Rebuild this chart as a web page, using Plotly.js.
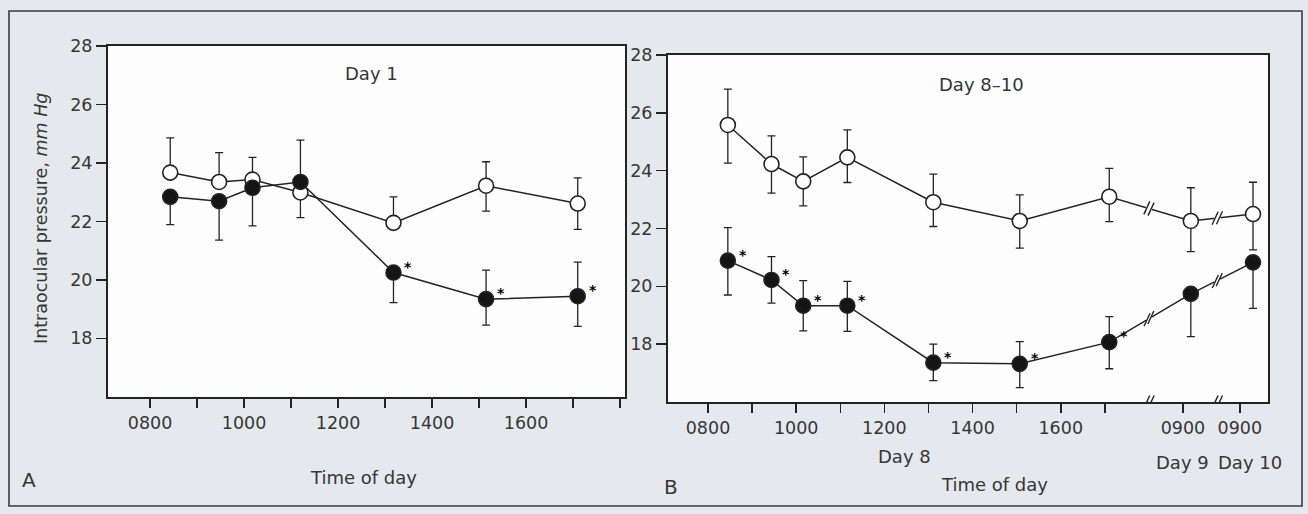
<!DOCTYPE html>
<html><head><meta charset="utf-8">
<script src="https://cdn.plot.ly/plotly-3.0.1.min.js"></script>
<style>html,body{margin:0;padding:0;background:#e5e9ee;}#chart{width:1308px;height:514px;}</style>
</head><body><div id="chart"></div>
<script>
// ---------- Panel A : Day 1 ----------
const timeA = [8.43, 9.47, 10.18, 11.2, 13.18, 15.15, 17.1];
const openA = [23.67, 23.35, 23.43, 22.99, 21.95, 23.22, 22.61];
const openAUp = [1.19, 1.0, 0.76, 0, 0.89, 0.82, 0.88];
const openADown = [0, 0, 0, 0.86, 0, 0.87, 0.88];
const filledA = [22.84, 22.69, 23.15, 23.35, 20.25, 19.34, 19.44];
const filledAUp = [0, 0, 0, 1.43, 0, 0.99, 1.17];
const filledADown = [0.95, 1.33, 1.30, 0, 1.03, 0.89, 1.03];
const sigA = [0, 0, 0, 0, 1, 1, 1];
const tickValsA = [8, 9, 10, 11, 12, 13, 14, 15, 16, 17, 18];
const tickTextA = ['0800', '', '1000', '', '1200', '', '1400', '', '1600', '', ''];

// ---------- Panel B : Day 8-10 (axis broken after 1700) ----------
const timeB = [8.45, 9.44, 10.16, 11.16, 13.11, 15.07, 17.1, 18.95, 20.36];
const openB = [25.58, 24.23, 23.63, 24.46, 22.91, 22.26, 23.10, 22.26, 22.50];
const openBUp = [1.24, 0.97, 0.85, 0.95, 0.97, 0.90, 0.98, 1.15, 1.10];
const openBDown = [1.32, 1.01, 0.85, 0.87, 0.84, 0.94, 0.86, 1.06, 1.24];
const filledB = [20.89, 20.22, 19.33, 19.33, 17.36, 17.32, 18.07, 19.74, 20.83];
const filledBUp = [1.14, 0.81, 0.87, 0.84, 0.64, 0.77, 0.88, 0, 0];
const filledBDown = [1.19, 0.80, 0.87, 0.89, 0.62, 0.82, 0.92, 1.48, 1.59];
const sigB = [1, 1, 1, 1, 1, 1, 1, 0, 0];
const tickValsB = [8, 9, 10, 11, 12, 13, 14, 15, 16, 17, 18.77, 20.06];
const tickTextB = ['0800', '', '1000', '', '1200', '', '1400', '', '1600', '', '0900', '0900'];
const dayTextB = ['Day 8', 'Day 9', 'Day 10'];
const dayPosB = [12.45, 18.77, 20.29];
const breaksB = [18.0, 19.55];

const yTicks = [18, 20, 22, 24, 26, 28];

// ---------- layout geometry ----------
const W = 1308, H = 514;
const FONT = 'DejaVu Sans, sans-serif';
const INK = '#232323';
const TXT = '#363636';
const px = v => v / W, py = v => 1 - v / H;
const domA = {x: [108, 625], y: [46, 396.8]}, rangeA = [7.106, 18.106];
const domB = {x: [668, 1268], y: [55, 402]}, rangeB = [7.093, 20.70];
const yRange = [16, 28];

function errs(up, down) {
  return {type: 'data', symmetric: false, array: up, arrayminus: down,
          width: 4, thickness: 1.3, color: INK};
}
function series(x, y, up, down, filled, xa, ya) {
  return {x: x, y: y, xaxis: xa, yaxis: ya, mode: 'lines+markers', type: 'scatter',
    line: {color: INK, width: 1.5},
    marker: {size: 15, color: filled ? '#151515' : '#ffffff', line: {color: INK, width: 1.6}},
    error_y: errs(up, down), hoverinfo: 'skip', cliponaxis: false};
}
const traces = [
  series(timeA, openA, openAUp, openADown, false, 'x', 'y'),
  series(timeA, filledA, filledAUp, filledADown, true, 'x', 'y'),
  series(timeB, openB, openBUp, openBDown, false, 'x2', 'y2'),
  series(timeB, filledB, filledBUp, filledBDown, true, 'x2', 'y2')
];

function xax(dom, range, tv, tt, anchor) {
  return {domain: [px(dom.x[0]), px(dom.x[1])], range: range, anchor: anchor,
    tickmode: 'array', tickvals: tv, ticktext: tt, ticks: 'outside', ticklen: 9,
    tickwidth: 1.5, tickcolor: INK, showline: true, linecolor: INK, linewidth: 2,
    mirror: true, showgrid: false, zeroline: false,
    tickfont: {family: FONT, size: 17.5, color: TXT}};
}
function yax(dom, anchor) {
  return {domain: [py(dom.y[1]), py(dom.y[0])], range: yRange, anchor: anchor,
    tickmode: 'array', tickvals: yTicks, ticks: 'outside', ticklen: 10,
    tickwidth: 1.5, tickcolor: INK, showline: true, linecolor: INK, linewidth: 2,
    mirror: true, showgrid: false, zeroline: false,
    tickfont: {family: FONT, size: 17.5, color: TXT}};
}

const annotations = [];
function txt(text, x, y, size, extra) {
  annotations.push(Object.assign({text: text, x: px(x), y: py(y), xref: 'paper', yref: 'paper',
    showarrow: false, xanchor: 'center', yanchor: 'middle',
    font: {family: FONT, size: size, color: TXT}}, extra || {}));
}
txt('Day 1', 371, 74, 18);
txt('Day 8\u201310', 981, 85, 18);
txt('Intraocular pressure, <i>mm Hg</i>', 41, 219, 17.5, {textangle: -90});
txt('Time of day', 363, 477, 18);
txt('Time of day', 994, 484, 18);
txt('A', 29, 480, 20);
txt('B', 671, 487, 20);
const dayY = [456, 462, 462];
dayTextB.forEach((t, i) => annotations.push({text: t, x: dayPosB[i], xref: 'x2', y: py(dayY[i]), yref: 'paper',
  showarrow: false, xanchor: 'center', yanchor: 'middle', font: {family: FONT, size: 18, color: TXT}}));

function stars(xs, ys, sig, xa, ya) {
  xs.forEach((x, i) => { if (sig[i]) annotations.push({text: '<b>*</b>', x: x, y: ys[i], xref: xa, yref: ya,
    showarrow: false, xshift: 15, yshift: 6, font: {family: FONT, size: 14, color: '#000000'}}); });
}
stars(timeA, filledA, sigA, 'x', 'y');
stars(timeB, filledB, sigB, 'x2', 'y2');

// ---------- frame and break marks ("//") ----------
const shapes = [];
shapes.push({type: 'rect', xref: 'paper', yref: 'paper', x0: px(9), x1: px(1302), y0: py(506), y1: py(11),
  line: {color: '#3b3b3b', width: 1.6}, fillcolor: 'rgba(0,0,0,0)', layer: 'below'});

const sx = (domB.x[1] - domB.x[0]) / (rangeB[1] - rangeB[0]);
const sy = (domB.y[1] - domB.y[0]) / (yRange[1] - yRange[0]);
function breakMark(xb, yb, ux, uy, maskColor) {
  const base = {xref: 'x2', yref: 'y2', xsizemode: 'pixel', ysizemode: 'pixel', xanchor: xb, yanchor: yb, layer: 'above'};
  const m = 3.2;
  shapes.push(Object.assign({type: 'path', path: `M ${-m*ux} ${-m*uy} L ${m*ux} ${m*uy}`,
    line: {color: maskColor, width: 5}}, base));
  let p = '';
  [-2.2, 2.2].forEach(o => {
    const cx = o * ux, cy = o * uy;
    p += `M ${cx - 3} ${cy - 6.5} L ${cx + 3} ${cy + 6.5} `;
  });
  shapes.push(Object.assign({type: 'path', path: p, line: {color: INK, width: 1.4}}, base));
}
function lineBreaks(xs, ys) {
  breaksB.forEach(xb => {
    for (let i = 0; i < xs.length - 1; i++) {
      if (xs[i] <= xb && xb <= xs[i + 1]) {
        const f = (xb - xs[i]) / (xs[i + 1] - xs[i]);
        const yb = ys[i] + f * (ys[i + 1] - ys[i]);
        const dx = (xs[i + 1] - xs[i]) * sx, dy = (ys[i + 1] - ys[i]) * sy;
        const L = Math.hypot(dx, dy);
        breakMark(xb, yb, dx / L, dy / L, '#ffffff');
      }
    }
  });
}
lineBreaks(timeB, openB);
lineBreaks(timeB, filledB);
breaksB.forEach(xb => breakMark(xb, yRange[0], 1, 0, '#f3f4f6'));

const layout = {
  width: W, height: H, autosize: false, showlegend: false,
  margin: {l: 0, r: 0, t: 0, b: 0, pad: 0},
  paper_bgcolor: '#e5e9ee', plot_bgcolor: '#fdfdfd',
  font: {family: FONT, color: TXT},
  xaxis: xax(domA, rangeA, tickValsA, tickTextA, 'y'),
  yaxis: yax(domA, 'x'),
  xaxis2: xax(domB, rangeB, tickValsB, tickTextB, 'y2'),
  yaxis2: yax(domB, 'x2'),
  annotations: annotations, shapes: shapes
};
Plotly.newPlot('chart', traces, layout, {staticPlot: true, displayModeBar: false});
</script></body></html>
